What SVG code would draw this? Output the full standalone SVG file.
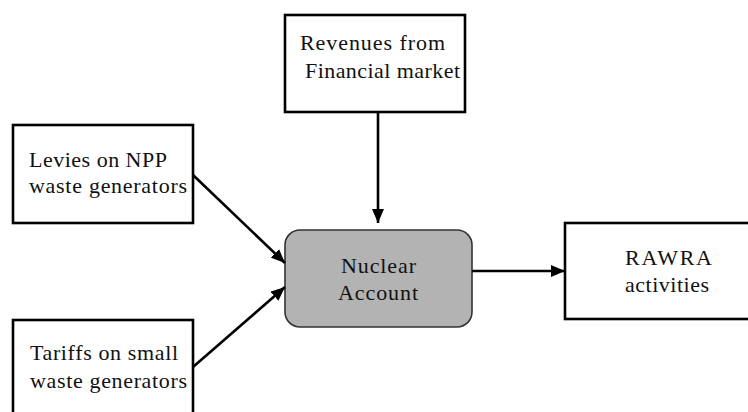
<svg xmlns="http://www.w3.org/2000/svg" width="748" height="412" viewBox="0 0 748 412">
  <defs>
    <marker id="arrow" viewBox="0 0 14 12" refX="14" refY="6" markerWidth="14" markerHeight="12" markerUnits="userSpaceOnUse" orient="auto">
      <path d="M0,0 L14,6 L0,12 Z" fill="#000"/>
    </marker>
  </defs>
  <style>
    .box { fill: #fff; stroke: #000; stroke-width: 2.6; }
    .account { fill: #b3b3b3; stroke: #333; stroke-width: 1.6; }
    .lbl { font-family: "Liberation Serif", "Times New Roman", "DejaVu Serif", serif; font-size: 22px; fill: #111; }
    .edge { stroke: #000; stroke-width: 2.6; fill: none; marker-end: url(#arrow); }
  </style>
  <rect width="748" height="412" fill="#fff"/>

  <g id="revenues">
    <rect class="box" x="285" y="15" width="180" height="97"/>
    <text class="lbl" x="300" y="50" textLength="145" lengthAdjust="spacing">Revenues from</text>
    <text class="lbl" x="305" y="78" textLength="155" lengthAdjust="spacing">Financial market</text>
  </g>

  <g id="levies">
    <rect class="box" x="13" y="125" width="180" height="98"/>
    <text class="lbl" x="29" y="167" textLength="138" lengthAdjust="spacing">Levies on NPP</text>
    <text class="lbl" x="29" y="193" textLength="158" lengthAdjust="spacing">waste generators</text>
  </g>

  <g id="tariffs">
    <rect class="box" x="13" y="320" width="180" height="110"/>
    <text class="lbl" x="30" y="360" textLength="148" lengthAdjust="spacing">Tariffs on small</text>
    <text class="lbl" x="30" y="388" textLength="157" lengthAdjust="spacing">waste generators</text>
  </g>

  <g id="nuclear-account">
    <rect class="account" x="285" y="230" width="187" height="97" rx="15" ry="15"/>
    <text class="lbl" x="341" y="273" textLength="75" lengthAdjust="spacing">Nuclear</text>
    <text class="lbl" x="338" y="300" textLength="80" lengthAdjust="spacing">Account</text>
  </g>

  <g id="rawra">
    <rect class="box" x="565" y="223" width="190" height="96"/>
    <text class="lbl" x="625" y="265" textLength="87" lengthAdjust="spacing">RAWRA</text>
    <text class="lbl" x="625" y="292" textLength="84" lengthAdjust="spacing">activities</text>
  </g>

  <g id="connectors">
    <line class="edge" x1="378" y1="112" x2="378" y2="223"/>
    <line class="edge" x1="193" y1="175" x2="285" y2="263"/>
    <line class="edge" x1="193" y1="367" x2="285" y2="287"/>
    <line class="edge" x1="472" y1="271" x2="565" y2="271"/>
  </g>
</svg>
